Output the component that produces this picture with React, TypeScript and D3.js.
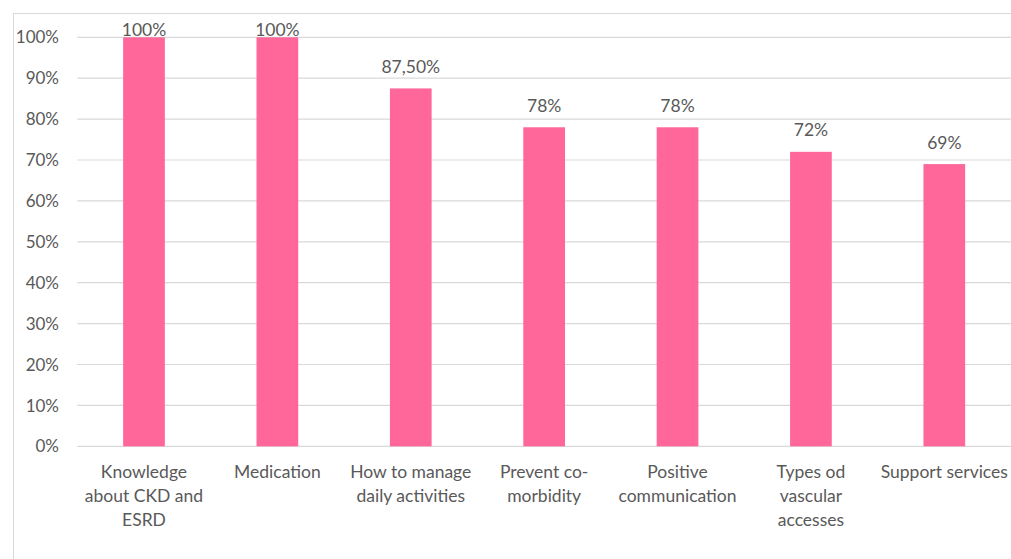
import React from "react";
import * as d3 from "d3";

const categories: string[] = [
  "Knowledge\nabout CKD and\nESRD",
  "Medication",
  "How to manage\ndaily activities",
  "Prevent co-\nmorbidity",
  "Positive\ncommunication",
  "Types od\nvascular\naccesses",
  "Support services",
];
const values: number[] = [100, 100, 87.5, 78, 78, 72, 69];
const valueLabels: string[] = ["100%", "100%", "87,50%", "78%", "78%", "72%", "69%"];
const yTicks: number[] = [0, 10, 20, 30, 40, 50, 60, 70, 80, 90, 100];

const W = 1011;
const H = 559;
const FONT = "Lato, 'Open Sans', sans-serif";
const TEXT = "#595959";
const GRID = "#d9d9d9";
const BAR = "#FF6699";

export default function App() {
  const x = d3.scaleBand<number>().domain(d3.range(categories.length)).range([77.3, 1011]);
  const y = d3.scaleLinear().domain([0, 100]).range([446.3, 37.3]);
  const barW = 41.7;
  const cx = (i: number) => (x(i) as number) + x.bandwidth() / 2;

  return (
    <svg width={W} height={H} style={{ position: "absolute", left: 0, top: 0, background: "#fff" }}>
      <rect x={13.5} y={13.5} width={W + 10} height={H + 10} fill="none" stroke={GRID} strokeWidth={1} />
      {yTicks.map((t) => (
        <g key={t}>
          <line x1={77.3} x2={1011} y1={y(t)} y2={y(t)} stroke={GRID} strokeWidth={1.2} />
          <text x={59} y={y(t)} dy="0.36em" textAnchor="end" fontFamily={FONT} fontSize={17} fill={TEXT}>
            {t}%
          </text>
        </g>
      ))}
      {values.map((v, i) => (
        <rect key={i} x={cx(i) - barW / 2} y={y(v)} width={barW} height={y(0) - y(v)} fill={BAR} />
      ))}
      {values.map((v, i) => (
        <text key={i} x={cx(i)} y={Math.max(y(v) - 15.5, 36)} textAnchor="middle" fontFamily={FONT} fontSize={17.5} fill={TEXT}>
          {valueLabels[i]}
        </text>
      ))}
      {categories.map((c, i) => (
        <text key={i} x={cx(i)} y={478} textAnchor="middle" fontFamily={FONT} fontSize={17.5} fill={TEXT}>
          {c.split("\n").map((line, j) => (
            <tspan key={j} x={cx(i)} dy={j === 0 ? 0 : 23.8}>
              {line}
            </tspan>
          ))}
        </text>
      ))}
    </svg>
  );
}
